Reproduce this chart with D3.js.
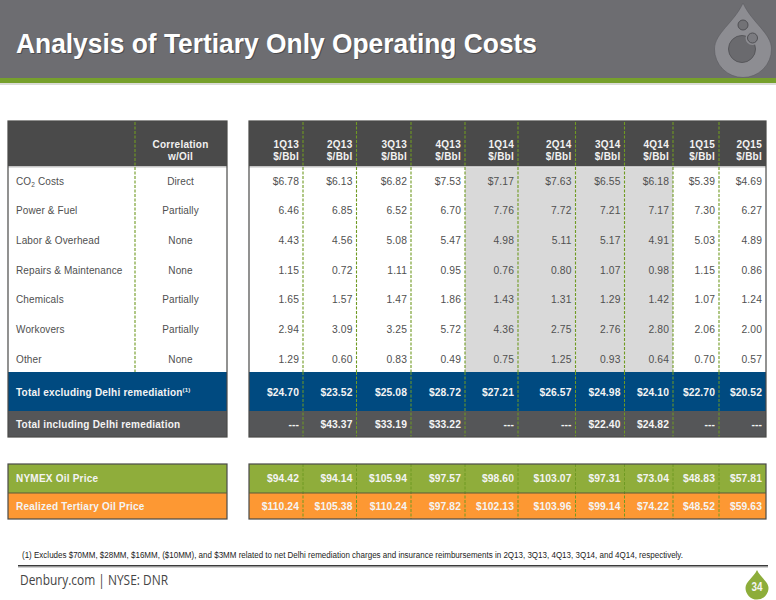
<!DOCTYPE html>
<html>
<head>
<meta charset="utf-8">
<script src="https://cdn.jsdelivr.net/npm/d3@7"></script>
<style>
  html, body { margin: 0; padding: 0; background: #fff; }
  svg { display: block; font-family: "Liberation Sans", Arial, sans-serif; }
</style>
</head>
<body>
<svg id="slide" width="776" height="600"></svg>
<script>
const titleText = "Analysis of Tertiary Only Operating Costs";
const footnote = "(1)  Excludes $70MM, $28MM, $16MM, ($10MM), and $3MM related to net Delhi remediation charges and insurance reimbursements in 2Q13, 3Q13, 4Q13, 3Q14, and 4Q14, respectively.";
const footerText = "Denbury.com | NYSE: DNR";
const pageNumber = "34";

const quarters = ["1Q13", "2Q13", "3Q13", "4Q13", "1Q14", "2Q14", "3Q14", "4Q14", "1Q15", "2Q15"];
const shadedQuarters = ["1Q14", "2Q14", "3Q14", "4Q14"];

const costLabels = ["CO2 Costs", "Power & Fuel", "Labor & Overhead", "Repairs & Maintenance", "Chemicals", "Workovers", "Other"];
const correlations = ["Direct", "Partially", "None", "None", "Partially", "Partially", "None"];

const co2Costs = [6.78, 6.13, 6.82, 7.53, 7.17, 7.63, 6.55, 6.18, 5.39, 4.69];
const powerFuel = [6.46, 6.85, 6.52, 6.70, 7.76, 7.72, 7.21, 7.17, 7.30, 6.27];
const laborOverhead = [4.43, 4.56, 5.08, 5.47, 4.98, 5.11, 5.17, 4.91, 5.03, 4.89];
const repairs = [1.15, 0.72, 1.11, 0.95, 0.76, 0.80, 1.07, 0.98, 1.15, 0.86];
const chemicals = [1.65, 1.57, 1.47, 1.86, 1.43, 1.31, 1.29, 1.42, 1.07, 1.24];
const workovers = [2.94, 3.09, 3.25, 5.72, 4.36, 2.75, 2.76, 2.80, 2.06, 2.00];
const other = [1.29, 0.60, 0.83, 0.49, 0.75, 1.25, 0.93, 0.64, 0.70, 0.57];
const costSeries = [co2Costs, powerFuel, laborOverhead, repairs, chemicals, workovers, other];

const totalExcl = [24.70, 23.52, 25.08, 28.72, 27.21, 26.57, 24.98, 24.10, 22.70, 20.52];
const totalIncl = [null, 43.37, 33.19, 33.22, null, null, 22.40, 24.82, null, null];
const nymex = [94.42, 94.14, 105.94, 97.57, 98.60, 103.07, 97.31, 73.04, 48.83, 57.81];
const realized = [110.24, 105.38, 110.24, 97.82, 102.13, 103.96, 99.14, 74.22, 48.52, 59.63];

// layout, kept apart from the data
const leftX = 8, leftDiv = 135, leftEnd = 227, rightX = 249, rightEnd = 766;
const colEdges = [249, 303, 356.5, 411, 465, 518, 575.5, 624.5, 673, 719, 766];
const headTop = 121, headBottom = 166, bodyBottom = 372;
const green = "#6f9a22";

const svg = d3.select("#slide");
const dollars = d3.format("$.2f");
const plain = d3.format(".2f");

const colLeft = d3.scaleOrdinal().domain(quarters).range(colEdges.slice(0, -1));
const colRight = d3.scaleOrdinal().domain(quarters).range(colEdges.slice(1));
const rowY = d3.scalePoint().domain(costLabels).range([181, 359]);

// top banner
svg.append("rect").attr("width", 776).attr("height", 78).attr("fill", "#6d6d71");
svg.append("rect").attr("y", 78).attr("width", 776).attr("height", 5).attr("fill", "#76a02c");
svg.append("rect").attr("y", 83).attr("width", 776).attr("height", 2).attr("fill", "#dadcd6");

svg.append("text").attr("x", 16).attr("y", 52.5)
  .attr("font-size", 28.5).attr("font-weight", "bold").attr("fill", "#000").attr("opacity", 0.3)
  .attr("textLength", 521).attr("lengthAdjust", "spacingAndGlyphs")
  .attr("transform", "translate(1,1)").text(titleText);
svg.append("text").attr("x", 16).attr("y", 52.5)
  .attr("font-size", 28.5).attr("font-weight", "bold").attr("fill", "#fff")
  .attr("textLength", 521).attr("lengthAdjust", "spacingAndGlyphs").text(titleText);

// drop logo
function dropPath(cx, tipY, bottomY, halfW) {
  const r = halfW, cy = bottomY - r;
  return `M${cx},${tipY} C${cx + r * 0.3},${tipY + (cy - tipY) * 0.42} ${cx + r},${cy - r * 0.55} ${cx + r},${cy}` +
    ` A${r},${r} 0 1 1 ${cx - r},${cy} C${cx - r},${cy - r * 0.55} ${cx - r * 0.3},${tipY + (cy - tipY) * 0.42} ${cx},${tipY} Z`;
}
svg.append("path").attr("d", dropPath(743, 3, 77.5, 28.5)).attr("fill", "#8d8d92").attr("stroke", "#5b5b5f").attr("stroke-width", 0.6);
const holes = svg.append("g");
holes.append("circle").attr("cx", 742).attr("cy", 49).attr("r", 13.5).attr("fill", "#6a6a6e").attr("stroke", "#57575b");
holes.append("circle").attr("cx", 743).attr("cy", 25).attr("r", 5).attr("fill", "#727276").attr("stroke", "#505054");
holes.append("circle").attr("cx", 752.5).attr("cy", 38).attr("r", 7).attr("fill", "#8d8d92");
holes.append("circle").attr("cx", 752.5).attr("cy", 38).attr("r", 5).attr("fill", "#7b7b80").attr("stroke", "#505054");

// table bodies
function band(y, h, fill) {
  svg.append("rect").attr("x", leftX).attr("y", y).attr("width", leftEnd - leftX).attr("height", h).attr("fill", fill);
  svg.append("rect").attr("x", rightX).attr("y", y).attr("width", rightEnd - rightX).attr("height", h).attr("fill", fill);
}
band(headTop, headBottom - headTop, "#4a4a4a");
band(headBottom, 1.5, "#c4c4c4");
band(372, 39, "#004a80");
band(411, 26, "#555658");
band(464, 29, "#8fad3b");
band(493, 26, "#fd9833");

svg.selectAll("rect.shade").data(shadedQuarters).join("rect").attr("class", "shade")
  .attr("x", d => colLeft(d)).attr("y", headBottom + 1.5)
  .attr("width", d => colRight(d) - colLeft(d)).attr("height", bodyBottom - headBottom - 1.5)
  .attr("fill", "#d9d9d9");

// dashed column rules
function rule(x, y1, y2, width) {
  svg.append("line").attr("x1", x).attr("x2", x).attr("y1", y1).attr("y2", y2)
    .attr("stroke", green).attr("stroke-width", width).attr("stroke-dasharray", "3,1.5");
}
rule(leftDiv, headTop + 1, bodyBottom, 1.1);
colEdges.slice(1, -1).forEach(x => {
  rule(x, headTop + 1, bodyBottom, 1.1);
  rule(x, 372, 437, 1);
  rule(x, 464, 519, 1);
});

// frames
function frame(y, h) {
  [[leftX, leftEnd - leftX], [rightX, rightEnd - rightX]].forEach(([x, w]) => {
    svg.append("rect").attr("x", x).attr("y", y).attr("width", w).attr("height", h)
      .attr("fill", "none").attr("stroke", "#4a4a48").attr("stroke-width", 1.2);
  });
}
frame(headTop, 437 - headTop);
frame(464, 519 - 464);
band(492.5, 1, "#5b5a3a");

function label(x, y, str, opts) {
  return svg.append("text").attr("x", x).attr("y", y)
    .attr("font-size", opts.size || 10)
    .attr("font-weight", opts.bold ? "bold" : "normal")
    .attr("letter-spacing", opts.spacing || 0)
    .attr("text-anchor", opts.anchor || "start")
    .attr("fill", opts.fill).text(str);
}

// header text
const headOpts = { bold: true, fill: "#f2f2f2", anchor: "middle", spacing: 0.25 };
label(180.5, 147.8, "Correlation", headOpts);
label(180.5, 160.3, "w/Oil", headOpts);
svg.selectAll("g.head").data(quarters).join("g").attr("class", "head").each(function(q) {
  const x = colRight(q) - 4;
  const rightOpts = { bold: true, fill: "#f2f2f2", anchor: "end", spacing: 0.25 };
  label(x, 147.8, q, rightOpts);
  label(x, 160.3, "$/Bbl", rightOpts);
});

// cost rows
costLabels.forEach((name, i) => {
  const y = rowY(name) + 3.8;
  const t = label(16, y, null, { fill: "#4f4f4f", spacing: 0.12 });
  if (name === "CO2 Costs") {
    t.append("tspan").text("CO");
    t.append("tspan").attr("dy", 2).attr("font-size", 6.5).text("2");
    t.append("tspan").attr("dy", -2).text(" Costs");
  } else {
    t.text(name);
  }
  label(180.5, y, correlations[i], { fill: "#4f4f4f", anchor: "middle", spacing: 0.1 });
  quarters.forEach((q, j) => {
    const fmt = i === 0 ? dollars : plain;
    label(colRight(q) - 4, y, fmt(costSeries[i][j]), { fill: "#505050", anchor: "end", size: 10.3, spacing: 0.1 });
  });
});

// total and price rows
const summaryRows = [
  { name: "Total excluding Delhi remediation", note: "(1)", values: totalExcl, y: 395.5 },
  { name: "Total including Delhi remediation", values: totalIncl, y: 427.5 },
  { name: "NYMEX Oil Price", values: nymex, y: 482 },
  { name: "Realized Tertiary Oil Price", values: realized, y: 510 }
];
summaryRows.forEach(row => {
  const t = label(16, row.y, row.name, { bold: true, fill: "#f4f4f4", spacing: 0.22 });
  if (row.note) {
    t.append("tspan").attr("dy", -4).attr("font-size", 6).text(row.note);
  }
  quarters.forEach((q, j) => {
    const v = row.values[j];
    label(colRight(q) - 4, row.y, v === null ? "---" : dollars(v), { bold: true, fill: "#f4f4f4", anchor: "end", size: 10.3, spacing: 0.1 });
  });
});

// footnote and footer
svg.append("text").attr("x", 22).attr("y", 557.5).attr("font-size", 8.5).attr("fill", "#222")
  .attr("textLength", 661).attr("lengthAdjust", "spacingAndGlyphs").text(footnote);
svg.append("rect").attr("x", 18).attr("y", 565).attr("width", 750).attr("height", 1.6).attr("fill", "#3b3b3b");
svg.append("rect").attr("x", 18).attr("y", 566.6).attr("width", 750).attr("height", 1).attr("fill", "#b5b5b5");
svg.append("text").attr("x", 20).attr("y", 585).attr("font-size", 14).attr("fill", "#444")
  .attr("font-family", "Open Sans").attr("textLength", 148).attr("lengthAdjust", "spacingAndGlyphs").text(footerText);

svg.append("path").attr("d", dropPath(757, 570, 599.5, 11.5)).attr("fill", "#8dad3a");
svg.append("text").attr("x", 757).attr("y", 591).attr("text-anchor", "middle").attr("font-size", 12)
  .attr("font-weight", "bold").attr("fill", "#f4f4f4")
  .attr("textLength", 11).attr("lengthAdjust", "spacingAndGlyphs").text(pageNumber);
</script>
</body>
</html>
